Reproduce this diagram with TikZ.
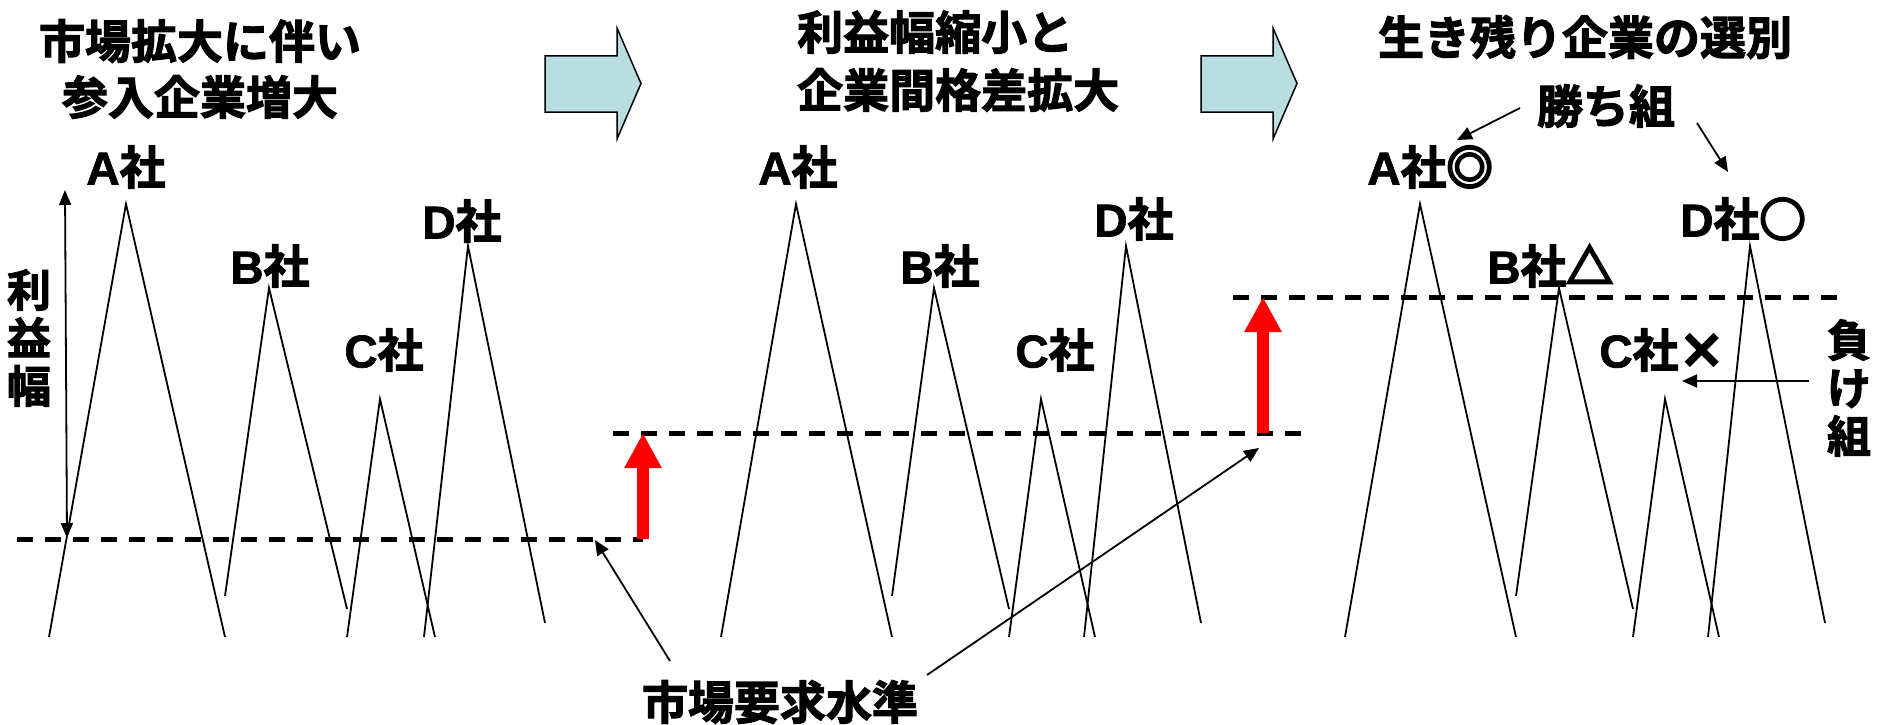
\documentclass[tikz,border=0pt]{standalone}
\usepackage{fontspec}
\usetikzlibrary{arrows.meta}
\newfontfamily\jpfont{Noto Sans CJK JP}[BoldFont={* Bold}, BoldFeatures={FakeBold=2.5}]
\newfontfamily\markfont{Noto Sans CJK JP}[BoldFont={* Bold}, BoldFeatures={FakeBold=6}]
\newfontfamily\latfont{Liberation Sans}[BoldFeatures={FakeBold=1.5}]
\definecolor{arrowfill}{RGB}{184,222,226}
\newcommand\co[1]{{\latfont\bfseries #1}}
\newcommand\mk[1]{{\markfont\bfseries #1}}

\begin{document}
\begin{tikzpicture}[x=1pt,y=-1pt,
  lbl/.style={font=\jpfont\bfseries\fontsize{46}{56}\selectfont, inner sep=0pt, align=center},
  vlbl/.style={font=\jpfont\bfseries\fontsize{44}{48}\selectfont, inner sep=0pt, align=center},
  peak/.style={line width=1.8pt},
  level/.style={line width=5pt, dash pattern=on 16pt off 12pt},
  pointer/.style={line width=1.8pt, -{Triangle[length=15pt,width=13pt]}},
  span/.style={line width=1.8pt, {Triangle[length=15pt,width=12pt]}-{Triangle[length=15pt,width=12pt]}},
  rise/.style={red, line width=12pt, -{Triangle[length=35pt,width=35pt]}},
  blockarrow/.style={fill=arrowfill, draw=black, line width=1.5pt, line join=miter}
]
\useasboundingbox (0,0) rectangle (1880,725);

% ---------- headings ----------
\node[lbl] (t1) at (200,69) {市場拡大に伴い\\参入企業増大};
\node[lbl, font=\jpfont\bfseries\fontsize{46}{58}\selectfont, align=left, anchor=west] (t2) at (797,61) {利益幅縮小と\\企業間格差拡大};
\node[lbl] (t3) at (1585,37) {生き残り企業の選別};

% ---------- block arrows between stages ----------
\draw[blockarrow] (545,56) -- (617,56) -- (617,28) -- (641,83.5) -- (617,139) -- (617,112) -- (545,112) -- cycle;
\draw[blockarrow] (1201,56) -- (1273,56) -- (1273,28) -- (1297,83.5) -- (1273,139) -- (1273,112) -- (1201,112) -- cycle;

% ---------- required market levels ----------
\coordinate (l1a) at (17,539);   \coordinate (l1b) at (643,539);
\coordinate (l2a) at (613,433);  \coordinate (l2b) at (1302,433);
\coordinate (l3a) at (1233,297); \coordinate (l3b) at (1840,297);
\draw[level] (l1a) -- (l1b);
\draw[level] (l2a) -- (l2b);
\draw[level] (l3a) -- (l3b);

% level rises
\coordinate (r1a) at (643,539);  \coordinate (r1b) at (643,433);
\coordinate (r2a) at (1263,433); \coordinate (r2b) at (1263,297);
\draw[rise] (r1a) -- (r1b);
\draw[rise] (r2a) -- (r2b);

% ---------- stage 1 peaks ----------
\draw[peak] (49,637) -- (126,204) -- (225,637);
\draw[peak] (225,596) -- (269,288) -- (347,609);
\draw[peak] (347,637) -- (380,399) -- (435,637);
\draw[peak] (424,637) -- (468,246) -- (545,623);
\node[lbl] (a1) at (126,167) {\co{A}社};
\node[lbl] (b1) at (270,266) {\co{B}社};
\node[lbl] (c1) at (384,350) {\co{C}社};
\node[lbl] (d1) at (462,221) {\co{D}社};

% profit margin span
\coordinate (s1) at (65,190); \coordinate (s2) at (67,538);
\draw[span] (s1) -- (s2);
\node[vlbl] (rieki) at (29,338) {利\\益\\幅};

% ---------- stage 2 peaks ----------
\draw[peak] (721,637) -- (796,204) -- (892,637);
\draw[peak] (892,596) -- (934,288) -- (1009,609);
\draw[peak] (1009,637) -- (1041,399) -- (1095,637);
\draw[peak] (1084,637) -- (1126,246) -- (1201,623);
\node[lbl] (a2) at (798,167) {\co{A}社};
\node[lbl] (b2) at (940,266) {\co{B}社};
\node[lbl] (c2) at (1055,350) {\co{C}社};
\node[lbl] (d2) at (1134,219) {\co{D}社};

% ---------- stage 3 peaks ----------
\draw[peak] (1345,637) -- (1420,204) -- (1516,637);
\draw[peak] (1516,596) -- (1559,288) -- (1633,609);
\draw[peak] (1633,637) -- (1665,399) -- (1719,637);
\draw[peak] (1708,637) -- (1750,246) -- (1825,623);
\node[lbl] (a3) at (1430,167) {\co{A}社\mk{◎}};
\node[lbl] (b3) at (1550,266) {\co{B}社\mk{△}};
\node[lbl] (c3) at (1662,350) {\co{C}社\mk{×}};
\node[lbl] (d3) at (1743,219) {\co{D}社\mk{○}};

% winners and losers
\node[lbl] (win) at (1606,106) {勝ち組};
\coordinate (w1s) at (1520,108); \coordinate (w1e) at (1457,140);
\coordinate (w2s) at (1697,123); \coordinate (w2e) at (1728,172);
\draw[pointer] (w1s) -- (w1e);
\draw[pointer] (w2s) -- (w2e);

\node[vlbl] (lose) at (1849,388) {負\\け\\組};
\coordinate (ls) at (1809,381); \coordinate (le) at (1682,381);
\draw[pointer] (ls) -- (le);

% ---------- market requirement label ----------
\node[lbl] (mkt) at (780,702) {市場要求水準};
\coordinate (m1s) at (670,661); \coordinate (m1e) at (595,540);
\coordinate (m2s) at (927,675); \coordinate (m2e) at (1259,448);
\draw[pointer] (m1s) -- (m1e);
\draw[pointer] (m2s) -- (m2e);
\end{tikzpicture}
\end{document}
